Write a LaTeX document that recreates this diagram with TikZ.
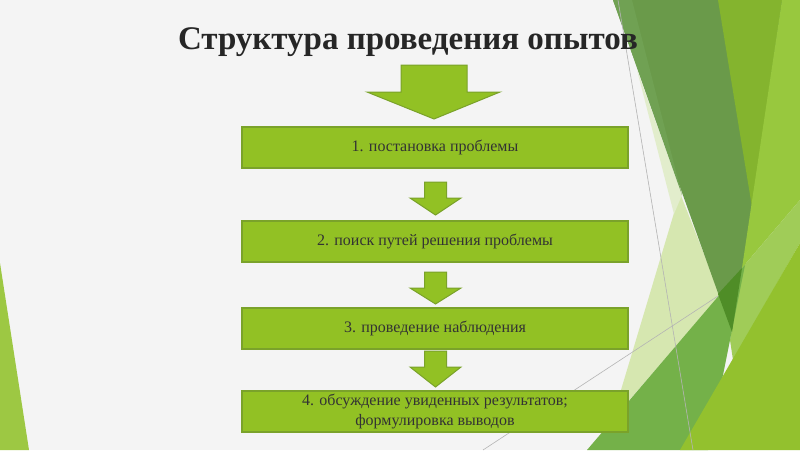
\documentclass[tikz,border=0pt]{standalone}
\usepackage{fontspec}
\setmainfont{Liberation Serif}
\definecolor{bgc}{HTML}{F4F4F4}
\definecolor{leftg}{HTML}{9DC843}
\definecolor{darkg}{HTML}{6A9A4A}
\definecolor{darklight}{HTML}{70A153}
\definecolor{olive}{HTML}{84B42E}
\definecolor{lightone}{HTML}{98C83E}
\definecolor{lighttwo}{HTML}{A0CC58}
\definecolor{pale}{HTML}{D6E7B0}
\definecolor{verypale}{HTML}{E2EDCC}
\definecolor{medg}{HTML}{74B149}
\definecolor{darkpatch}{HTML}{4F8D27}
\definecolor{brightg}{HTML}{93C12E}
\definecolor{thinline}{HTML}{B4B4B4}
\definecolor{boxfill}{HTML}{92C124}
\definecolor{boxborder}{HTML}{7AA22A}
\definecolor{boxtext}{HTML}{333333}
\definecolor{titlec}{HTML}{262626}
\begin{document}
\begin{tikzpicture}[x=1pt,y=-1pt,
  stepbox/.style={draw=boxborder, line width=1.2pt, fill=boxfill,
    minimum width=386pt, minimum height=41pt, inner sep=0pt,
    text=boxtext, font=\fontsize{16}{20}\selectfont, align=center},
  blockarr/.style={draw=boxborder, line width=1pt, fill=boxfill, line join=miter},
  titlestyle/.style={font=\fontsize{33}{35}\selectfont\bfseries, text=titlec, anchor=base, inner sep=0pt}]
\useasboundingbox (0,0) rectangle (800,450);
\fill[bgc] (0,0) rectangle (800,450);
% left decoration
\fill[leftg] (0,263) -- (29,450) -- (0,450) -- cycle;
% right decoration (facets)
\fill[pale] (680,193) -- (720,295) -- (612,420) -- cycle;
\fill[verypale] (637,70) -- (682,195) -- (674,214) -- cycle;
\fill[darkg] (613,0) -- (800,0) -- (732,332) -- cycle;
\fill[darklight] (613,0) -- (632,0) -- (682,195) -- cycle;
\fill[olive] (718,0) -- (782,0) -- (752,207) -- cycle;
\fill[lightone] (782,0) -- (800,0) -- (800,200) -- (742,268) -- cycle;
\fill[lighttwo] (742,268) -- (800,200) -- (800,243) -- (733,360) -- (730,340) -- cycle;
\fill[medg] (587,450) -- (745,265) -- (708,450) -- cycle;
\fill[darkpatch] (718,294) -- (742,268) -- (732,332) -- cycle;
\fill[brightg] (680,450) -- (800,243) -- (800,450) -- cycle;
\coordinate (g1a) at (618,0);
\coordinate (g1b) at (693,450);
\coordinate (g2a) at (483,450);
\coordinate (g2b) at (718,296);
\draw[thinline, line width=0.6pt] (g1a) -- (g1b);
\draw[thinline, line width=0.6pt] (g2a) -- (g2b);
% title
\node[titlestyle] (title) at (408,49) {Структура проведения опытов};
% boxes
\node[stepbox] (b1) at (435,147.5) {1. постановка проблемы};
\node[stepbox] (b2) at (435,241.5) {2. поиск путей решения проблемы};
\node[stepbox] (b3) at (435,328.5) {3. проведение наблюдения};
\node[stepbox] (b4) at (435,411.5) {4. обсуждение увиденных результатов;\\формулировка выводов};
% block arrows
\draw[blockarr, shift={(434,65)}] (-33,0) -- (33,0) -- (33,27) -- (66,27) -- (0,54) -- (-67,27) -- (-33,27) -- cycle;
\draw[blockarr, shift={(435.5,182)}] (-11,0) -- (11,0) -- (11,16) -- (25.5,16) -- (0,33) -- (-25.5,16) -- (-11,16) -- cycle;
\draw[blockarr, shift={(435.5,272)}] (-11,0) -- (11,0) -- (11,16) -- (25.5,16) -- (0,32) -- (-25.5,16) -- (-11,16) -- cycle;
\draw[blockarr, shift={(435.5,351)}] (-11,0) -- (11,0) -- (11,16) -- (25.5,16) -- (0,36) -- (-25.5,16) -- (-11,16) -- cycle;
\end{tikzpicture}
\end{document}
